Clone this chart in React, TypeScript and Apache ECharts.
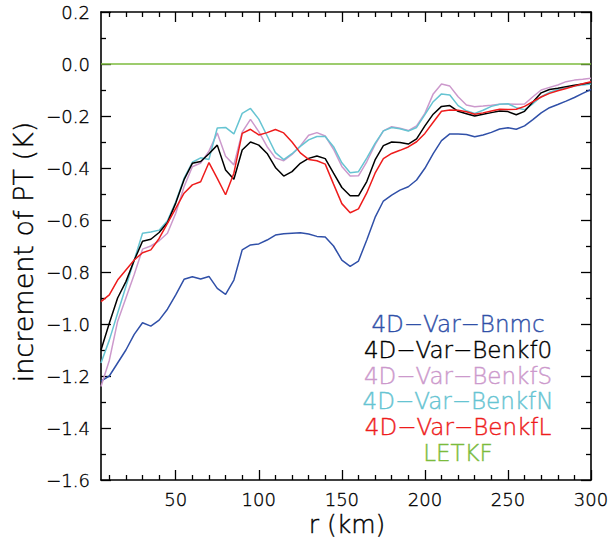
import React, { useEffect, useRef } from "react";
import * as echarts from "echarts";

const R = [5, 10, 15, 20, 25, 30, 35, 40, 45, 50, 55, 60, 65, 70, 75, 80, 85, 90, 95, 100,
  105, 110, 115, 120, 125, 130, 135, 140, 145, 150, 155, 160, 165, 170, 175, 180, 185, 190, 195, 200,
  205, 210, 215, 220, 225, 230, 235, 240, 245, 250, 255, 260, 265, 270, 275, 280, 285, 290, 295, 300];

const bnmc = [-1.22, -1.20, -1.15, -1.10, -1.04, -0.995, -1.008, -0.985, -0.943, -0.888,
  -0.828, -0.818, -0.827, -0.817, -0.863, -0.886, -0.831, -0.715, -0.696, -0.692,
  -0.677, -0.658, -0.653, -0.651, -0.649, -0.654, -0.663, -0.665, -0.70, -0.754,
  -0.778, -0.758, -0.677, -0.59, -0.527, -0.504, -0.485, -0.472, -0.446, -0.401,
  -0.345, -0.295, -0.269, -0.269, -0.271, -0.280, -0.273, -0.263, -0.25, -0.245,
  -0.251, -0.238, -0.214, -0.188, -0.168, -0.156, -0.143, -0.129, -0.113, -0.098];

const benkf0 = [-1.10, -0.997, -0.90, -0.837, -0.755, -0.682, -0.674, -0.648, -0.61, -0.535,
  -0.445, -0.382, -0.375, -0.345, -0.312, -0.408, -0.443, -0.331, -0.30, -0.312,
  -0.344, -0.398, -0.431, -0.414, -0.382, -0.363, -0.354, -0.364, -0.42, -0.475,
  -0.507, -0.507, -0.452, -0.369, -0.314, -0.30, -0.302, -0.308, -0.288, -0.238,
  -0.193, -0.163, -0.16, -0.182, -0.191, -0.20, -0.193, -0.187, -0.181, -0.183,
  -0.195, -0.182, -0.146, -0.111, -0.098, -0.093, -0.087, -0.082, -0.077, -0.071];

const benkfS = [-1.24, -1.14, -0.99, -0.90, -0.81, -0.712, -0.70, -0.68, -0.651, -0.574,
  -0.472, -0.395, -0.381, -0.335, -0.265, -0.355, -0.388, -0.262, -0.213, -0.26,
  -0.318, -0.361, -0.372, -0.348, -0.315, -0.274, -0.264, -0.277, -0.328, -0.394,
  -0.431, -0.43, -0.376, -0.31, -0.257, -0.241, -0.247, -0.256, -0.238, -0.19,
  -0.115, -0.077, -0.085, -0.126, -0.158, -0.164, -0.162, -0.159, -0.155, -0.154,
  -0.155, -0.154, -0.126, -0.10, -0.09, -0.081, -0.068, -0.062, -0.059, -0.055];

const benkfN = [-1.15, -1.062, -0.959, -0.856, -0.754, -0.651, -0.646, -0.639, -0.603, -0.53,
  -0.44, -0.378, -0.361, -0.367, -0.246, -0.244, -0.269, -0.19, -0.171, -0.212,
  -0.276, -0.341, -0.368, -0.345, -0.317, -0.292, -0.279, -0.279, -0.318, -0.38,
  -0.418, -0.414, -0.362, -0.305, -0.257, -0.244, -0.249, -0.258, -0.244, -0.195,
  -0.145, -0.115, -0.119, -0.16, -0.18, -0.19, -0.178, -0.163, -0.155, -0.153,
  -0.168, -0.176, -0.153, -0.126, -0.109, -0.099, -0.091, -0.085, -0.081, -0.077];

const benkfL = [-0.914, -0.888, -0.831, -0.792, -0.754, -0.726, -0.715, -0.671, -0.613, -0.555,
  -0.497, -0.465, -0.453, -0.379, -0.44, -0.503, -0.42, -0.267, -0.251, -0.273,
  -0.264, -0.252, -0.265, -0.30, -0.342, -0.367, -0.372, -0.385, -0.462, -0.537,
  -0.572, -0.557, -0.496, -0.42, -0.364, -0.344, -0.332, -0.319, -0.299, -0.267,
  -0.224, -0.182, -0.177, -0.178, -0.184, -0.193, -0.188, -0.181, -0.174, -0.175,
  -0.174, -0.163, -0.145, -0.127, -0.113, -0.103, -0.094, -0.085, -0.076, -0.068];

const letkfR = [5, 300];
const letkf = [0, 0];

const xLabelTicks = [50, 100, 150, 200, 250, 300];
const xMinorTicks = [10, 20, 30, 40, 60, 70, 80, 90, 110, 120, 130, 140, 160, 170, 180, 190,
  210, 220, 230, 240, 260, 270, 280, 290];

const seriesNames = ["4D\u2212Var\u2212Bnmc", "4D\u2212Var\u2212Benkf0", "4D\u2212Var\u2212BenkfS",
  "4D\u2212Var\u2212BenkfN", "4D\u2212Var\u2212BenkfL", "LETKF"];
const seriesColors = ["#3050a8", "#000000", "#cc99cc", "#66c4d2", "#ee1c1c", "#7cbb3c"];

const FONT = "DejaVu Sans";
const WEIGHT = 200;

export default function App() {
  const ref = useRef<HTMLDivElement>(null);
  useEffect(() => {
    if (!ref.current) return;
    const chart = echarts.init(ref.current, undefined, { renderer: "svg" });
    const pairs = (xs: number[], ys: number[]) => xs.map((x, i) => [x, ys[i]]);
    const dataSets = [bnmc, benkf0, benkfS, benkfN, benkfL];
    const baseX = {
      type: "value" as const,
      min: 5,
      max: 300,
      splitLine: { show: false },
    };
    const axisLineStyle = { show: true, onZero: false, lineStyle: { color: "#000", width: 1.6 } };
    const noLine = { show: false, onZero: false };
    const tickStyle = { color: "#000", width: 1.3 };
    const labelBase = {
      color: "#000", fontFamily: FONT, fontWeight: WEIGHT, fontSize: 18,
      textBorderColor: "#000", textBorderWidth: 0.35,
    };
    const xAxes = [
      {
        ...baseX, position: "bottom",
        axisLine: axisLineStyle,
        axisTick: { show: true, inside: true, length: 10, customValues: xLabelTicks, lineStyle: tickStyle },
        axisLabel: { show: true, customValues: xLabelTicks, ...labelBase, margin: 10 },
      },
      {
        ...baseX, position: "bottom",
        axisLine: noLine,
        axisTick: { show: true, inside: true, length: 5, customValues: xMinorTicks, lineStyle: tickStyle },
        axisLabel: { show: false },
      },
      {
        ...baseX, position: "top",
        axisLine: axisLineStyle,
        axisTick: { show: true, inside: true, length: 10, customValues: xLabelTicks, lineStyle: tickStyle },
        axisLabel: { show: false },
      },
      {
        ...baseX, position: "top",
        axisLine: noLine,
        axisTick: { show: true, inside: true, length: 5, customValues: xMinorTicks, lineStyle: tickStyle },
        axisLabel: { show: false },
      },
    ];
    const baseY = {
      type: "value" as const,
      min: -1.6,
      max: 0.2,
      interval: 0.2,
      splitLine: { show: false },
      axisLine: axisLineStyle,
      axisTick: { show: true, inside: true, length: 10, lineStyle: tickStyle },
      minorTick: { show: true, splitNumber: 2, length: 5, lineStyle: tickStyle },
    };
    const yAxes = [
      {
        ...baseY, position: "left",
        axisLabel: {
          show: true, ...labelBase, margin: 11,
          formatter: (v: number) => (v < -1e-9 ? "\u2212" + Math.abs(v).toFixed(1) : Math.abs(v).toFixed(1)),
        },
      },
      { ...baseY, position: "right", axisLabel: { show: false } },
    ];
    const series: any[] = [
      {
        name: seriesNames[5], type: "line", data: pairs(letkfR, letkf), showSymbol: false,
        lineStyle: { color: seriesColors[5], width: 1.6 }, xAxisIndex: 0, yAxisIndex: 0,
      },
    ];
    const order = [0, 2, 3, 1, 4];
    order.forEach((i) => {
      series.push({
        name: seriesNames[i], type: "line", data: pairs(R, dataSets[i]), showSymbol: false,
        lineStyle: { color: seriesColors[i], width: 1.5 }, xAxisIndex: 0, yAxisIndex: 0,
      });
    });
    const legendY0 = 324;
    const legendStep = 25.8;
    const legend = seriesNames.map((n, i) => ({
      type: "text",
      x: 458,
      y: legendY0 + i * legendStep,
      style: {
        text: n, fill: seriesColors[i], font: `${WEIGHT} 23px "${FONT}"`,
        stroke: seriesColors[i], lineWidth: 0.4,
        textAlign: "center", textVerticalAlign: "middle",
      },
      z: 100,
    }));
    chart.setOption({
      animation: false,
      backgroundColor: "#fff",
      grid: { left: 101, right: 18, top: 12, bottom: 64, outerBoundsMode: "none" },
      xAxis: xAxes,
      yAxis: yAxes,
      series,
      graphic: [
        ...legend,
        {
          type: "text", x: 347, y: 524,
          style: {
            text: "r (km)", fill: "#000", stroke: "#000", lineWidth: 0.4, font: `${WEIGHT} 25px "${FONT}"`,
            textAlign: "center", textVerticalAlign: "middle",
          },
        },
        {
          type: "text", x: 23, y: 252, rotation: Math.PI / 2,
          style: {
            text: "increment of PT (K)", fill: "#000", stroke: "#000", lineWidth: 0.4, font: `${WEIGHT} 27px "${FONT}"`,
            textAlign: "center", textVerticalAlign: "middle",
          },
        },
      ],
    });
    return () => chart.dispose();
  }, []);
  return (
    <div
      ref={ref}
      style={{ position: "fixed", left: 0, top: 0, width: 609, height: 544, background: "#fff" }}
    />
  );
}
